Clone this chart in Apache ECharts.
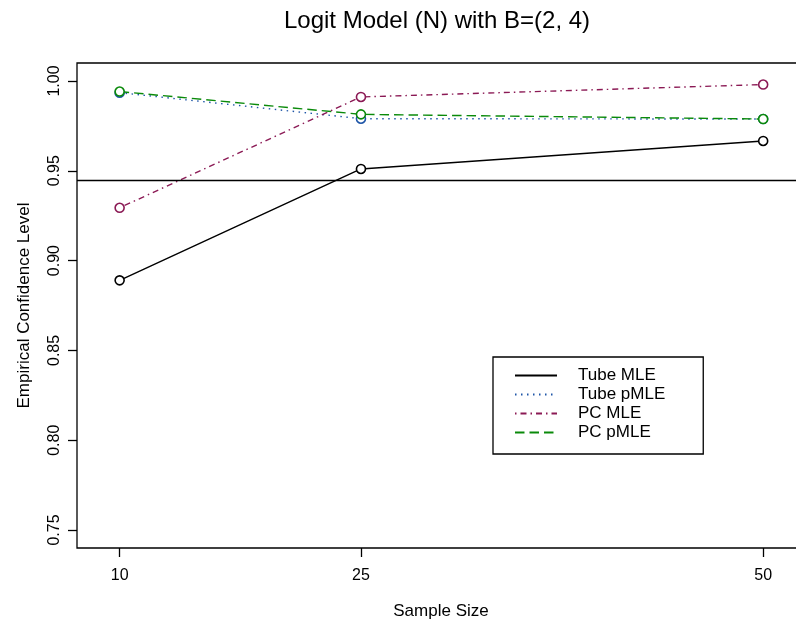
<!DOCTYPE html>
<html>
<head>
<meta charset="utf-8">
<script src="https://cdn.jsdelivr.net/npm/echarts@6/dist/echarts.min.js"></script>
<style>html,body{margin:0;padding:0;background:#fff}#c{width:796px;height:626px}</style>
</head>
<body>
<div id="c"></div>
<script>
const sampleSizes = [10, 25, 50];
const tubeMLE = [0.889, 0.951, 0.9666];
const tubePMLE = [0.9935, 0.979, 0.9788];
const pcMLE = [0.9294, 0.9911, 0.998];
const pcPMLE = [0.9941, 0.9814, 0.9788];
const yTicks = [0.75, 0.80, 0.85, 0.90, 0.95, 1.00];
const nominalLevel = 0.945;

const FONT = 'Liberation Sans, Arial, sans-serif';
const chart = echarts.init(document.getElementById('c'), null, {renderer: 'canvas'});

function mk(name, vals, color, type, width) {
  return {
    name: name,
    type: 'line',
    data: vals.map((v, i) => [sampleSizes[i], v]),
    symbol: 'circle',
    symbolSize: 9,
    showSymbol: true,
    itemStyle: {color: '#fff', borderColor: color, borderWidth: 1.6},
    lineStyle: {color: color, width: width, type: type},
    emphasis: {disabled: true},
    animation: false,
    z: 3
  };
}

const series = [
  mk('Tube MLE', tubeMLE, '#000000', 'solid', 1.4),
  mk('Tube pMLE', tubePMLE, '#1f56a8', [1.5, 4.5], 1.4),
  mk('PC MLE', pcMLE, '#8b1a55', [1.5, 4, 6, 4], 1.4),
  mk('PC pMLE', pcPMLE, '#0a8a0a', [9.5, 5], 1.4)
];
series[0].markLine = {
  silent: true,
  precision: 4,
  symbol: ['none', 'none'],
  label: {show: false},
  lineStyle: {color: '#000', width: 1.4, type: 'solid'},
  data: [{yAxis: nominalLevel}],
  animation: false
};

chart.setOption({
  animation: false,
  backgroundColor: '#fff',
  title: {
    text: 'Logit Model (N) with B=(2, 4)',
    left: 432, top: 4, textAlign: 'center',
    textStyle: {fontFamily: FONT, fontSize: 24, fontWeight: 'normal', color: '#000'}
  },
  grid: {left: 77, top: 63, width: 728, height: 485, outerBoundsMode: 'none', containLabel: false,
         show: true, borderColor: '#000', borderWidth: 1.3, backgroundColor: 'transparent'},
  xAxis: {
    type: 'value', min: 7.35, max: 52.6,
    name: 'Sample Size', nameLocation: 'middle', nameGap: 55,
    nameTextStyle: {fontFamily: FONT, fontSize: 17, color: '#000'},
    axisLine: {show: false},
    axisTick: {show: true, inside: false, length: 9, lineStyle: {color: '#000', width: 1.3}, customValues: sampleSizes},
    axisLabel: {
      fontFamily: FONT, fontSize: 16, color: '#000', margin: 20,
      customValues: sampleSizes,
      formatter: v => String(v)
    },
    splitLine: {show: false}
  },
  yAxis: {
    type: 'value', min: 0.74, max: 1.01,
    name: 'Empirical Confidence Level', nameLocation: 'middle', nameGap: 44,
    nameTextStyle: {fontFamily: FONT, fontSize: 17, color: '#000'},
    axisLine: {show: false},
    axisTick: {show: true, inside: false, length: 9, lineStyle: {color: '#000', width: 1.3}, customValues: yTicks},
    axisLabel: {
      fontFamily: FONT, fontSize: 16, color: '#000', rotate: 90, margin: 14,
      customValues: yTicks,
      formatter: v => v.toFixed(2)
    },
    splitLine: {show: false}
  },
  legend: {
    orient: 'vertical',
    left: 493, top: 357,
    padding: [10, 38, 13, 21],
    itemGap: 2,
    itemWidth: 42, itemHeight: 14,
    borderColor: '#000', borderWidth: 1.3, borderRadius: 0,
    backgroundColor: '#fff',
    itemStyle: {opacity: 0},
    textStyle: {fontFamily: FONT, fontSize: 17, lineHeight: 17, color: '#000', padding: [0, 0, 0, 16]},
    data: ['Tube MLE', 'Tube pMLE', 'PC MLE', 'PC pMLE'],
    selectedMode: false
  },
  series: series
});
</script>
</body>
</html>
